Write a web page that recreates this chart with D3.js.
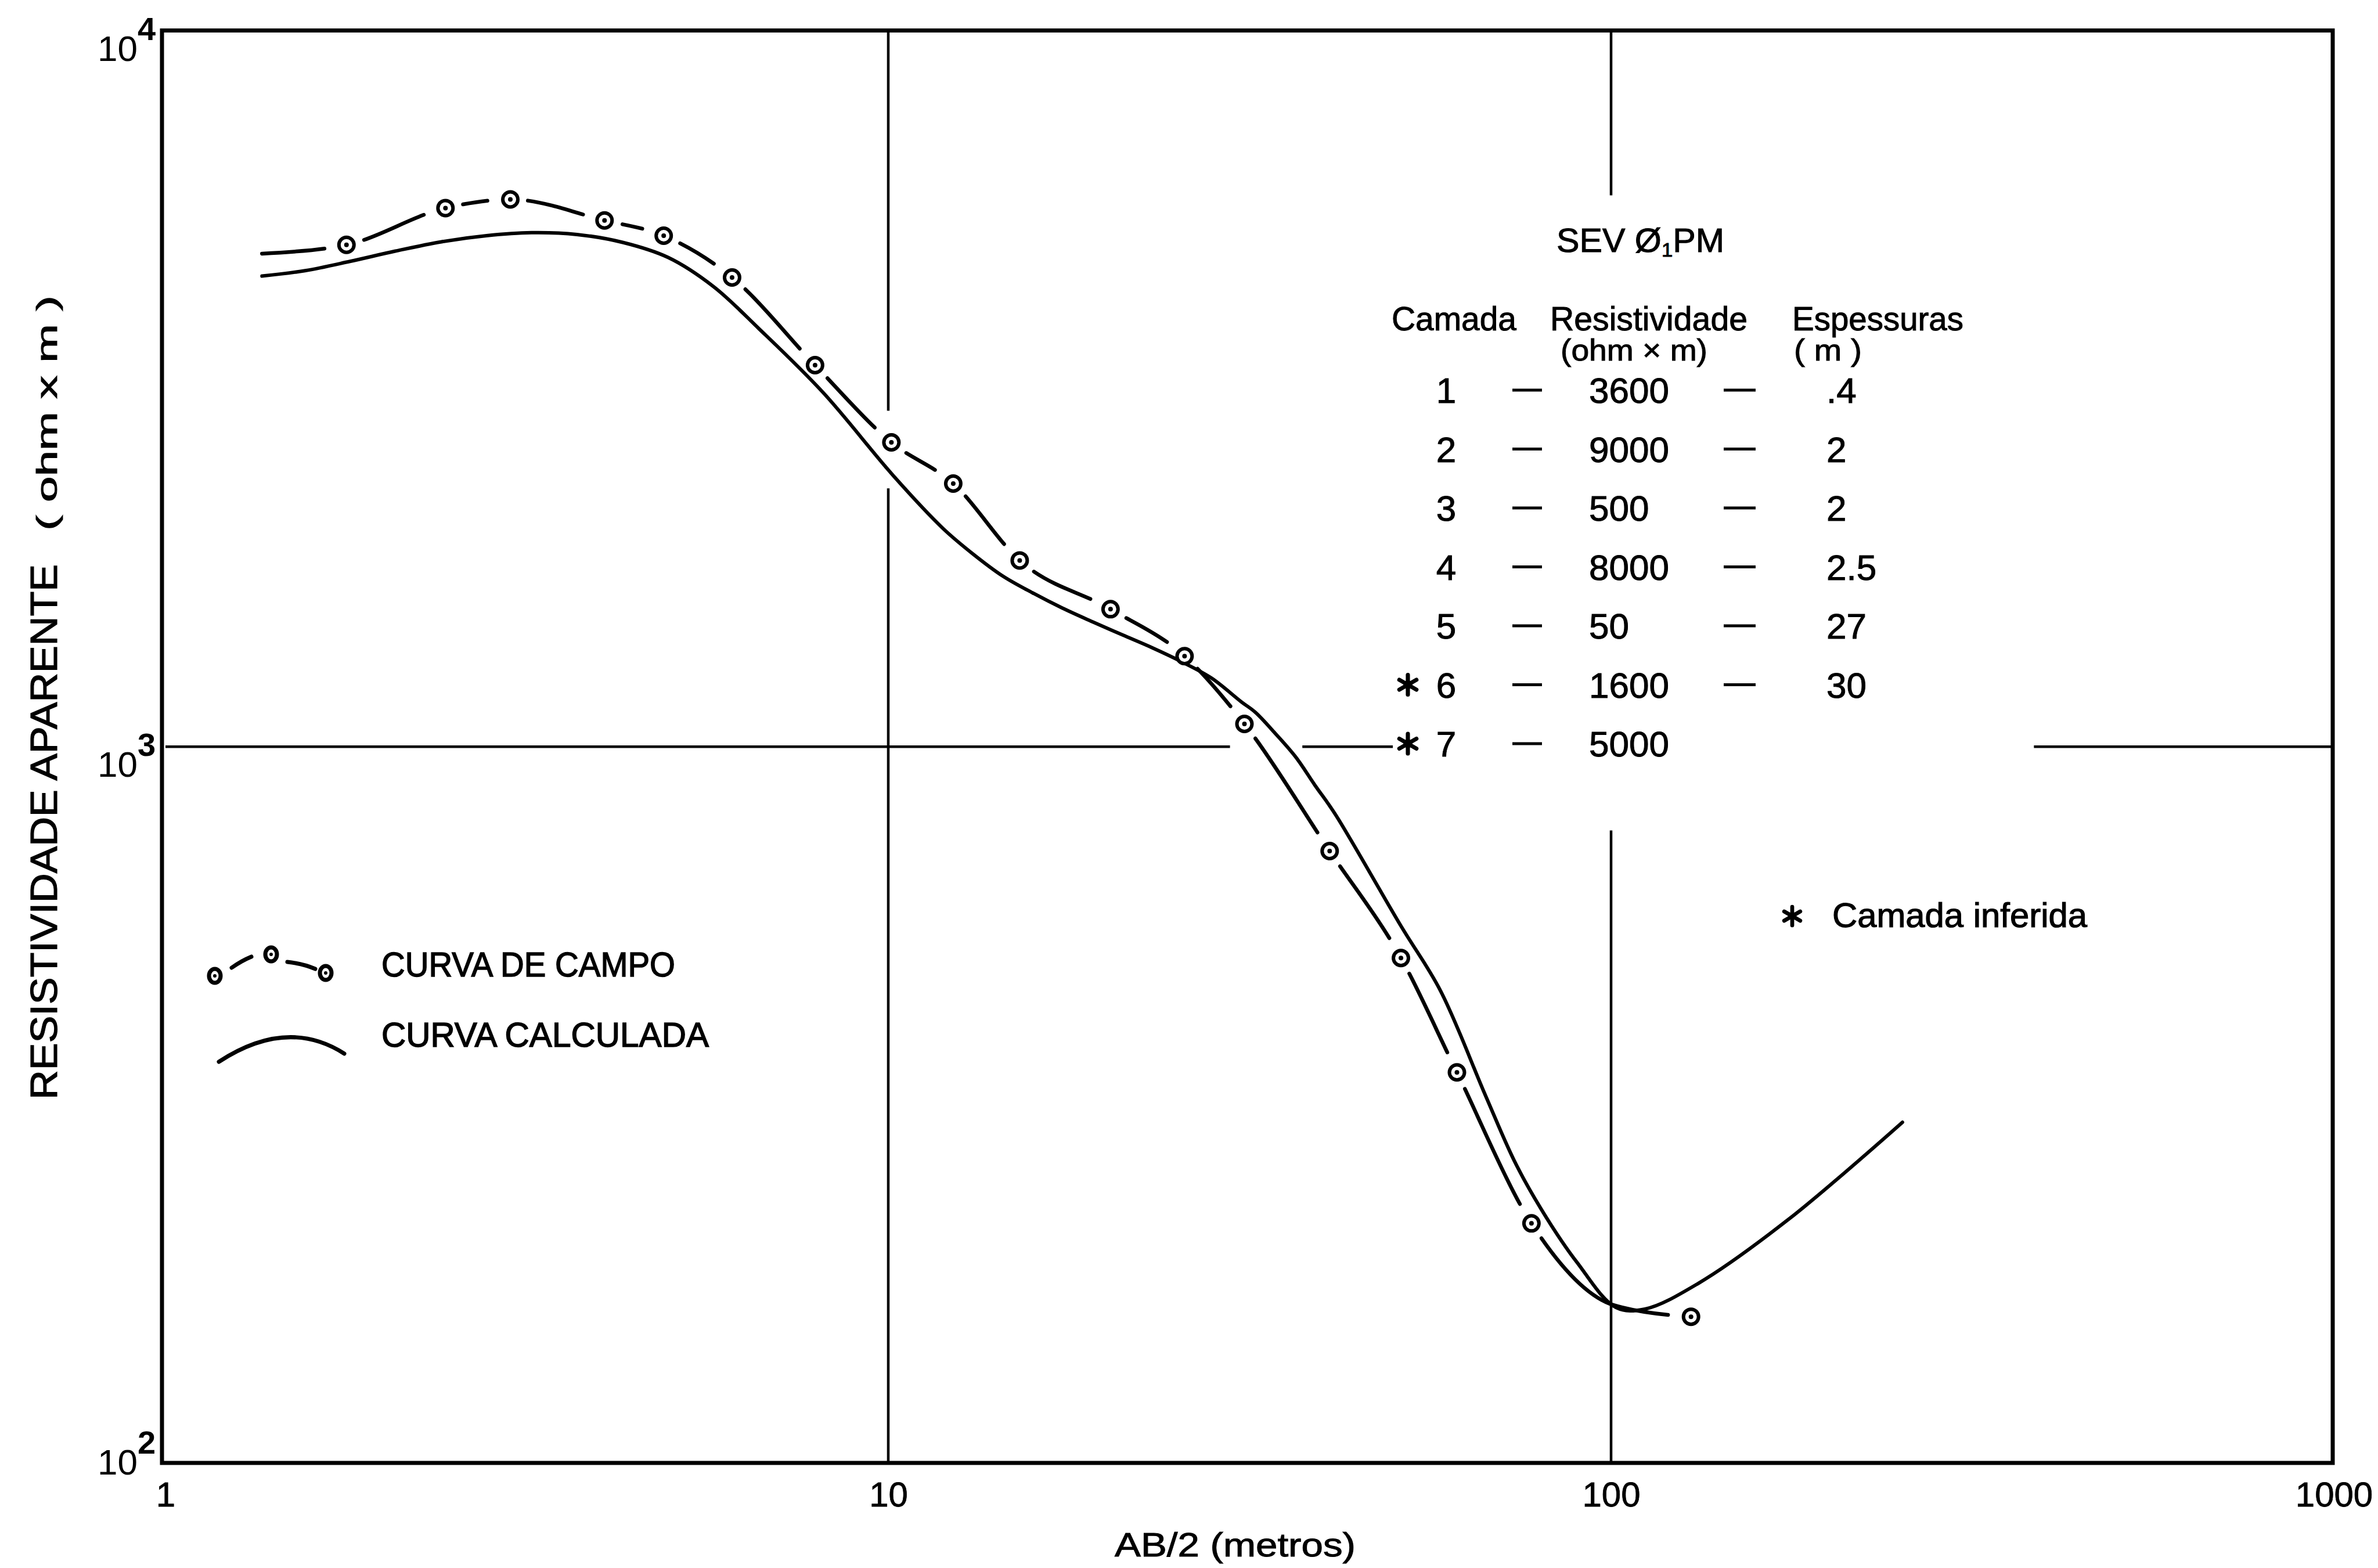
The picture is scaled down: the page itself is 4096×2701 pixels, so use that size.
<!DOCTYPE html>
<html><head><meta charset="utf-8">
<script src="https://cdn.jsdelivr.net/npm/d3@7"></script>
<style>body{margin:0;background:#fff} svg{display:block;background:#fff}</style>
</head><body><svg id="c" width="4096" height="2701"></svg>
<script>
// ---------- data ----------
const xTicks = [1, 10, 100, 1000];
const xTickLabels = ["1", "10", "100", "1000"];
const yTicks = [10000, 1000, 100];
const yTickExp = ["4", "3", "2"];

// field curve (curva de campo): measured points (markers)
const fieldX = [1.78, 2.44, 3.0, 4.05, 4.89, 6.08, 7.92, 10.1, 12.3, 15.2, 20.3, 25.7, 31.1, 40.8, 51.2, 61.2, 77.6, 129];
const fieldY = [5020, 5650, 5810, 5430, 5170, 4520, 3410, 2660, 2330, 1820, 1556, 1338, 1076, 715, 507, 351, 216, 160];
// hand-drawn dashed line: where it starts (no marker) and where it joins the calculated curve near 100 m
const fieldStartX = 1.36, fieldStartY = 4880;
const fieldJoinX = 101, fieldJoinY = 166;

// calculated curve (curva calculada)
const calcX = [1.36, 1.56, 1.80, 2.08, 2.41, 2.78, 3.21, 3.71, 4.29, 4.96, 5.73, 6.63, 8.13, 10.18, 11.9, 13.1, 14.4, 15.85, 17.4, 19.2, 21.1, 23.2, 25.5, 28.0, 30.8, 32.2, 34.3, 36.6, 38.95, 41.5, 51.2, 58.1, 67.1, 73.9, 81.4, 89.7, 101.6, 111.4, 131.9, 176.2, 253];
const calcY = [4540, 4620, 4760, 4920, 5070, 5170, 5220, 5190, 5060, 4820, 4390, 3830, 3120, 2385, 2018, 1858, 1731, 1639, 1562, 1493, 1432, 1374, 1313, 1247, 1155, 1117, 1044, 968, 883, 806, 562, 456, 325, 261, 220, 190.6, 164.8, 164, 178, 219, 299];

// layer table
const tableTitle = "SEV Ø";
const tableHeaders = ["Camada", "Resistividade", "Espessuras"];
const tableUnits = ["(ohm × m)", "( m )"];
const layerNum = ["1", "2", "3", "4", "5", "6", "7"];
const layerRes = ["3600", "9000", "500", "8000", "50", "1600", "5000"];
const layerThk = [".4", "2", "2", "2.5", "27", "30", ""];
const layerInferred = [false, false, false, false, false, true, true];

const legendLabels = ["CURVA DE CAMPO", "CURVA CALCULADA"];
const inferredLabel = "Camada inferida";
const xTitle = "AB/2 (metros)";
const yTitleMain = "RESISTIVIDADE APARENTE";
const yTitleUnit = "( ohm x m )";

// ---------- drawing ----------
const svg = d3.select("#c");
const FONT = "'Liberation Sans', Arial, sans-serif";
const FL = 279, FR = 4018, T = 52.5, B = 2520;       // drawn frame
const x = d3.scaleLog().domain([1, 1000]).range([285, 4020]);
const y = d3.scaleLog().domain([100, 10000]).range([B, T]);

// grid segments (broken where labels / curves cross them)
const grid = svg.append("g").attr("stroke", "#000").attr("stroke-width", 4.5).attr("fill", "none");
[[10, 10000, 2945], [10, 2294, 100], [100, 10000, 5886], [100, 764, 100]].forEach(s =>
  grid.append("line").attr("x1", x(s[0])).attr("x2", x(s[0])).attr("y1", y(s[1])).attr("y2", y(s[2])));
[[1, 29.7], [37.4, 49.9], [384.6, 1000]].forEach(s =>
  grid.append("line").attr("y1", y(1000)).attr("y2", y(1000)).attr("x1", Math.max(FL, x(s[0]))).attr("x2", Math.min(FR, x(s[1]))));

// frame
svg.append("rect").attr("x", FL).attr("y", T).attr("width", FR - FL).attr("height", B - T)
  .attr("fill", "none").attr("stroke", "#000").attr("stroke-width", 7);

// x axis labels
const xAxis = d3.axisBottom(x).tickValues(xTicks).tickSize(0).tickFormat((d, i) => xTickLabels[i]);
const gx = svg.append("g").attr("transform", `translate(0,${B})`).call(xAxis);
gx.select(".domain").remove();
gx.selectAll("text").attr("y", 75).attr("dy", 0).attr("font-family", FONT).attr("font-size", 60)
  .attr("fill", "#000").attr("stroke", "#000").attr("stroke-width", 0.8);

// y axis labels 10^n
const yl = svg.append("g").attr("font-family", FONT).attr("fill", "#000");
yTicks.forEach((t, i) => {
  const off = t === 100 ? 20 : 52;
  const by = y(t) + off;
  yl.append("text").attr("x", FL - 42).attr("y", by).attr("text-anchor", "end").attr("font-size", 62).text("10");
  yl.append("text").attr("x", FL - 42).attr("y", by - 36).attr("font-size", 56).attr("font-weight", "bold").text(yTickExp[i]);
});

// axis titles
svg.append("text").attr("x", 1920).attr("y", 2681).attr("font-family", FONT).attr("font-size", 58)
  .attr("stroke", "#000").attr("stroke-width", 1)
  .attr("textLength", 415).attr("lengthAdjust", "spacingAndGlyphs").text(xTitle);
svg.append("text").attr("transform", "translate(98,1894) rotate(-90)").attr("font-family", FONT).attr("font-size", 64)
  .attr("stroke", "#000").attr("stroke-width", 1.2)
  .attr("textLength", 922).attr("lengthAdjust", "spacingAndGlyphs").text(yTitleMain);
svg.append("text").attr("transform", "translate(98,914) rotate(-90)").attr("font-family", FONT).attr("font-size", 50)
  .attr("stroke", "#000").attr("stroke-width", 1)
  .attr("textLength", 405).attr("lengthAdjust", "spacingAndGlyphs").text(yTitleUnit);

// calculated curve
const line = d3.line().x(d => x(d[0])).y(d => y(d[1])).curve(d3.curveCatmullRom.alpha(0.5));
svg.append("path").datum(calcX.map((v, i) => [v, calcY[i]])).attr("d", line)
  .attr("fill", "none").attr("stroke", "#000").attr("stroke-width", 6).attr("stroke-linecap", "round");

// field curve (dashed between markers)
const fieldPts = [[fieldStartX, fieldStartY]].concat(fieldX.map((v, i) => [v, fieldY[i]]));
fieldPts.splice(fieldPts.length - 1, 0, [fieldJoinX, fieldJoinY]);
const fLine = d3.line().x(d => x(d[0])).y(d => y(d[1])).curve(d3.curveMonotoneX);
const fpath = svg.append("path").datum(fieldPts).attr("d", fLine)
  .attr("fill", "none").attr("stroke", "#000").attr("stroke-width", 6.5).attr("stroke-linecap", "round");
(function () {
  const node = fpath.node(), Ltot = node.getTotalLength();
  const samples = [];
  for (let l = 0; l <= Ltot; l += 1.5) samples.push([l, node.getPointAtLength(l)]);
  const lens = fieldX.map((v, i) => {
    const px = x(v), py = y(fieldY[i]);
    let best = 0, bd = Infinity;
    samples.forEach(s => { const d = (s[1].x - px) ** 2 + (s[1].y - py) ** 2; if (d < bd) { bd = d; best = s[0]; } });
    return best;
  });
  const arr = []; let pos = 0;
  lens.forEach(l => {
    const a = Math.max(pos, l - 39); arr.push(a - pos);
    const b = l + 31; arr.push(b - a); pos = b;
  });
  fpath.attr("stroke-dasharray", arr.join(" "));
})();

// markers
const mk = svg.append("g");
fieldX.forEach((v, i) => {
  const g = mk.append("g").attr("transform", `translate(${x(v)},${y(fieldY[i])})`);
  g.append("circle").attr("r", 13).attr("fill", "#fff").attr("stroke", "#000").attr("stroke-width", 6);
  g.append("circle").attr("r", 4).attr("fill", "#000");
});

// asterisk helper
function asterisk(g, cx, cy, s) {
  const a = g.append("g").attr("transform", `translate(${cx},${cy})`).attr("stroke", "#000").attr("stroke-width", s * 0.42).attr("stroke-linecap", "round");
  [90, 30, 150].forEach(deg => {
    const r = deg * Math.PI / 180, dx = Math.cos(r) * s, dy = Math.sin(r) * s;
    a.append("line").attr("x1", -dx).attr("y1", -dy).attr("x2", dx).attr("y2", dy);
  });
  a.append("circle").attr("r", s * 0.45).attr("fill", "#000").attr("stroke", "none");
}

// table
const tb = svg.append("g").attr("font-family", FONT).attr("fill", "#000").attr("stroke", "#000").attr("stroke-width", 1);
const sev = tb.append("text").attr("x", 2681).attr("y", 434).attr("font-size", 58);
sev.append("tspan").text(tableTitle);
sev.append("tspan").attr("font-size", 34).attr("dy", 8).text("1");
sev.append("tspan").attr("dy", -8).text("PM");
sev.attr("textLength", 289).attr("lengthAdjust", "spacingAndGlyphs");
const hx = [[2397, 215], [2670, 340], [3087, 295]];
tableHeaders.forEach((h, i) => tb.append("text").attr("x", hx[i][0]).attr("y", 569).attr("font-size", 58)
  .attr("textLength", hx[i][1]).attr("lengthAdjust", "spacingAndGlyphs").text(h));
tb.append("text").attr("x", 2688).attr("y", 621).attr("font-size", 52).attr("textLength", 253).attr("lengthAdjust", "spacingAndGlyphs").text(tableUnits[0]);
tb.append("text").attr("x", 3090).attr("y", 621).attr("font-size", 52).attr("textLength", 117).attr("lengthAdjust", "spacingAndGlyphs").text(tableUnits[1]);

const rowY0 = 694, rowStep = 101.5;
layerNum.forEach((n, i) => {
  const by = rowY0 + i * rowStep;
  tb.append("text").attr("x", 2491).attr("y", by).attr("text-anchor", "middle").attr("font-size", 62).text(n);
  tb.append("line").attr("x1", 2605).attr("x2", 2656).attr("y1", by - 22).attr("y2", by - 22).attr("stroke-width", 5);
  tb.append("text").attr("x", 2737).attr("y", by).attr("font-size", 62).text(layerRes[i]);
  if (layerThk[i]) {
    tb.append("line").attr("x1", 2969).attr("x2", 3024).attr("y1", by - 22).attr("y2", by - 22).attr("stroke-width", 5);
    tb.append("text").attr("x", 3146).attr("y", by).attr("font-size", 62).text(layerThk[i]);
  }
  if (layerInferred[i]) asterisk(tb, 2425, by - 22, 17);
});

// inferred note
asterisk(svg, 3087, 1578, 16);
svg.append("text").attr("x", 3156).attr("y", 1597).attr("font-family", FONT).attr("font-size", 60)
  .attr("stroke", "#000").attr("stroke-width", 1.2)
  .attr("textLength", 439).attr("lengthAdjust", "spacingAndGlyphs").text(inferredLabel);

// legend
const lg = svg.append("g");
const lm = [[370, 1681], [467, 1644], [561, 1676]];
lg.append("path").attr("d", `M399,1667 Q416,1655 433,1648 M495,1657 Q522,1660 543,1669`)
  .attr("fill", "none").attr("stroke", "#000").attr("stroke-width", 7).attr("stroke-linecap", "round");
lm.forEach(p => {
  lg.append("ellipse").attr("cx", p[0]).attr("cy", p[1]).attr("rx", 10).attr("ry", 12).attr("fill", "#fff").attr("stroke", "#000").attr("stroke-width", 7);
  lg.append("circle").attr("cx", p[0]).attr("cy", p[1]).attr("r", 3).attr("fill", "#000");
});
lg.append("path").attr("d", "M377,1829 Q495,1752 593,1815").attr("fill", "none").attr("stroke", "#000").attr("stroke-width", 7).attr("stroke-linecap", "round");
lg.append("text").attr("x", 657).attr("y", 1682).attr("font-family", FONT).attr("font-size", 60)
  .attr("stroke", "#000").attr("stroke-width", 1.5)
  .attr("textLength", 506).attr("lengthAdjust", "spacingAndGlyphs").text(legendLabels[0]);
lg.append("text").attr("x", 657).attr("y", 1803).attr("font-family", FONT).attr("font-size", 60)
  .attr("stroke", "#000").attr("stroke-width", 1.5)
  .attr("textLength", 564).attr("lengthAdjust", "spacingAndGlyphs").text(legendLabels[1]);
</script></body></html>
